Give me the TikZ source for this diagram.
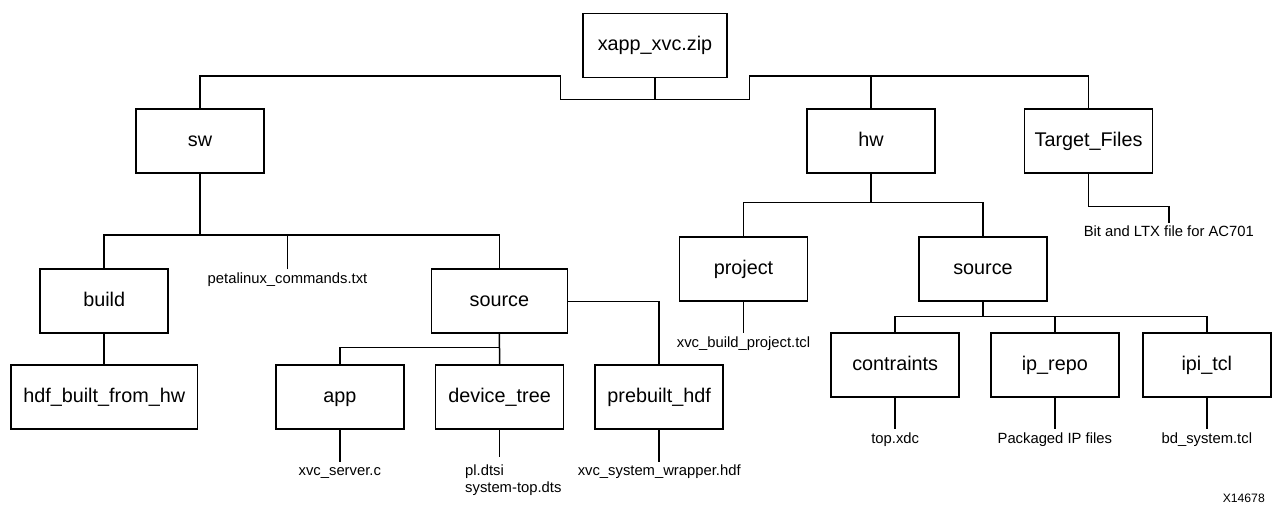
\documentclass[tikz,border=0pt]{standalone}
\usepackage{fontspec}
\setmainfont{Liberation Sans}
\begin{document}
\begin{tikzpicture}[x=1pt,y=-1pt,
  box/.style={draw,line width=1.7pt,minimum width=128pt,minimum height=64pt,inner sep=0pt,
    text height=15pt,text depth=5pt,
    font=\fontsize{19.8}{23}\selectfont},
  lbl/.style={inner xsep=0pt,inner ysep=3pt,text height=10.5pt,text depth=3pt,anchor=north,
    font=\fontsize{14.8}{17.6}\selectfont},
  conn/.style={line width=1.5pt}]
\useasboundingbox (0,0) rectangle (1282,504);
% boxes
\node[box,minimum width=144pt] (xapp) at (655,45.5) {xapp\_xvc.zip};
\node[box] (sw) at (200,141.3) {sw};
\node[box] (hw) at (871,141.3) {hw};
\node[box] (tf) at (1088.5,141.3) {Target\_Files};
\node[box] (build) at (104.2,301.3) {build};
\node[box,minimum width=136pt] (swsrc) at (499.4,301.3) {source};
\node[box,minimum width=186.5pt] (hdf) at (104.2,397.2) {hdf\_built\_from\_hw};
\node[box] (app) at (339.8,397.2) {app};
\node[box] (dt) at (499.6,397.2) {device\_tree};
\node[box] (pre) at (659.2,397.2) {prebuilt\_hdf};
\node[box] (project) at (743.5,269.2) {project};
\node[box] (hwsrc) at (983,269.2) {source};
\node[box] (con) at (895.2,365) {contraints};
\node[box] (ipr) at (1054.8,365) {ip\_repo};
\node[box] (ipi) at (1206.8,365) {ipi\_tcl};
% file labels
\node[lbl] (peta) at (287.5,269.3) {petalinux\_commands.txt};
\node[lbl] (appf) at (339.8,461.7) {xvc\_server.c};
\node[lbl] (pref) at (659.2,461.7) {xvc\_system\_wrapper.hdf};
\node[lbl] (projf) at (743.5,333.3) {xvc\_build\_project.tcl};
\node[lbl] (conf) at (895.2,429.3) {top.xdc};
\node[lbl] (iprf) at (1054.8,429.3) {Packaged IP files};
\node[lbl] (ipif) at (1206.8,429.3) {bd\_system.tcl};
\node[lbl] (tff) at (1168.8,222.7) {Bit and LTX file for AC701};
\node[anchor=north west,inner sep=0pt,align=left,font=\fontsize{14.8}{17.6}\selectfont] (dtf) at (465,464.2) {pl.dtsi\\system-top.dts};
\node[anchor=base east,inner sep=0pt,font=\fontsize{12.2}{14}\selectfont] (code) at (1265,502.5) {X14678};
% junction coordinates
\coordinate (jl) at (560.6,99.3);
\coordinate (jr) at (749.6,99.3);
\coordinate (busL) at (560.6,76);
\coordinate (busR) at (749.6,76);
\coordinate (swbus) at (200,235);
\coordinate (sbus) at (499.6,347.7);
\coordinate (hwbus) at (871,202.7);
\coordinate (hsbus) at (983,316.7);
\coordinate (tfbus) at (1088.5,206.7);
\coordinate (dtend) at (499.6,456.7);
% connectors
\draw[conn] (xapp.south) -- (xapp.south |- jl);
\draw[conn] (sw.north) |- (busL) -- (jl) -- (jr) -- (busR) -| (tf.north);
\draw[conn] (hw.north) -- (hw.north |- busR);
\draw[conn] (sw.south) -- (swbus);
\draw[conn] (build.north) |- (swbus) -| (swsrc.north);
\draw[conn] (peta.north) -- (peta.north |- swbus);
\draw[conn] (build.south) -- (hdf.north);
\draw[conn] (swsrc.east) -| (pre.north);
\draw[conn] (swsrc.south) -- (dt.north);
\draw[conn] (app.north) |- (sbus);
\draw[conn] (app.south) -- (appf.north);
\draw[conn] (dt.south) -- (dtend);
\draw[conn] (pre.south) -- (pref.north);
\draw[conn] (hw.south) -- (hwbus);
\draw[conn] (project.north) |- (hwbus) -| (hwsrc.north);
\draw[conn] (tf.south) -- (tfbus) -| (tff.north);
\draw[conn] (project.south) -- (projf.north);
\draw[conn] (hwsrc.south) -- (hsbus);
\draw[conn] (con.north) |- (hsbus) -| (ipi.north);
\draw[conn] (ipr.north) -- (ipr.north |- hsbus);
\draw[conn] (con.south) -- (conf.north);
\draw[conn] (ipr.south) -- (iprf.north);
\draw[conn] (ipi.south) -- (ipif.north);
\end{tikzpicture}
\end{document}
